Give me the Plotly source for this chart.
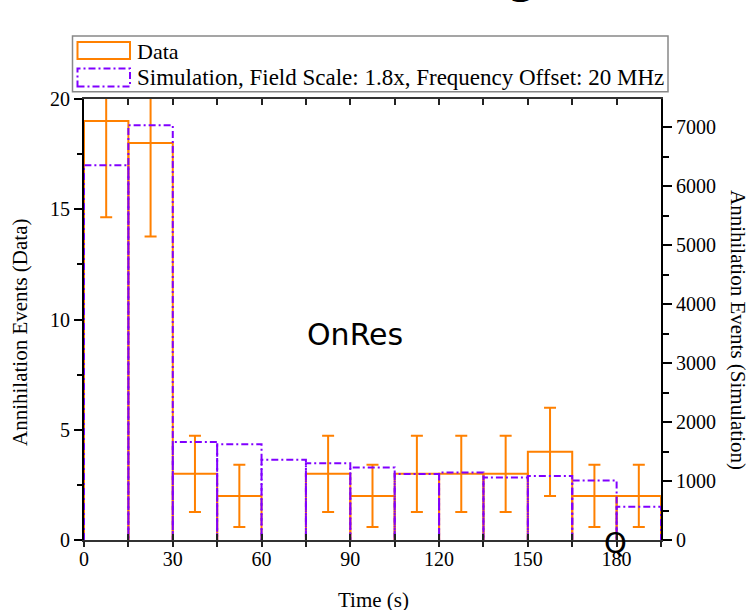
import plotly.graph_objects as go

# ---- data ----
bin_left = [0, 15, 30, 45, 60, 75, 90, 105, 120, 135, 150, 165, 180]
bin_width = 15
data_counts = [19, 18, 3, 2, 0, 3, 2, 3, 3, 3, 4, 2, 2]
data_errors = [4.36, 4.24, 1.73, 1.41, 0, 1.73, 1.41, 1.73, 1.73, 1.73, 2.0, 1.41, 1.41]
sim_counts = [6350, 7030, 1660, 1625, 1360, 1300, 1230, 1120, 1145, 1060, 1085, 1010, 565]
x_ticks = [0, 30, 60, 90, 120, 150, 180]

ORANGE = "#ff8000"
PURPLE = "#8000ff"
SERIF = "Liberation Serif"

# plot-area pixel geometry (for placing legend / annotations)
L, R, T, B = 84, 661, 99, 540
PW, PH = R - L, B - T


def px(x):
    return (x - L) / PW


def py(y):
    return (B - y) / PH


def outline(lefts, width, heights):
    xs, ys = [], []
    for x0, h in zip(lefts, heights):
        if h <= 0:
            continue
        xs += [x0, x0, x0 + width, x0 + width, None]
        ys += [0, h, h, 0, None]
    return xs, ys


fig = go.Figure()

ox, oy = outline(bin_left, bin_width, data_counts)
fig.add_trace(go.Scatter(x=ox, y=oy, mode="lines", line=dict(color=ORANGE, width=2),
                         hoverinfo="skip", name="Data"))

sx, sy = outline(bin_left, bin_width, sim_counts)
fig.add_trace(go.Scatter(x=sx, y=sy, mode="lines", yaxis="y2",
                         line=dict(color=PURPLE, width=2, dash="7px,3px,2px,3px"),
                         hoverinfo="skip",
                         name="Simulation, Field Scale: 1.8x, Frequency Offset: 20 MHz"))

centers = [b + bin_width / 2 for b, c in zip(bin_left, data_counts) if c > 0]
vals = [c for c in data_counts if c > 0]
errs = [e for c, e in zip(data_counts, data_errors) if c > 0]
fig.add_trace(go.Scatter(x=centers, y=vals, mode="markers",
                         marker=dict(size=1, color="rgba(0,0,0,0)"),
                         error_y=dict(type="data", array=errs, color=ORANGE, thickness=2, width=6),
                         showlegend=False))

tickfont = dict(family=SERIF, size=20, color="black")

fig.update_layout(
    width=750, height=610,
    margin=dict(l=L, r=750 - R, t=T, b=610 - B),
    paper_bgcolor="white", plot_bgcolor="white",
    showlegend=False,
    xaxis=dict(range=[0, 195], tickvals=x_ticks, ticks="inside", ticklen=6, tickwidth=1.5,
               tickcolor="#222", mirror="ticks", showline=True, linecolor="#333", linewidth=2,
               showgrid=False, zeroline=False, tickfont=tickfont,
               minor=dict(dtick=15, tick0=0, ticks="inside", ticklen=6, tickwidth=1.5, tickcolor="#222")),
    xaxis3=dict(range=[0, 195], overlaying="x", tickvals=x_ticks, ticks="outside", ticklen=6,
                tickwidth=1.5, tickcolor="#222", showticklabels=False, showline=False,
                showgrid=False, zeroline=False,
                minor=dict(dtick=15, tick0=0, ticks="outside", ticklen=6, tickwidth=1.5, tickcolor="#222")),
    yaxis=dict(range=[0, 20], dtick=5, ticks="outside", ticklen=8, tickwidth=1.5, tickcolor="black",
               showline=True, linecolor="black", linewidth=2, showgrid=False, zeroline=False,
               tickfont=tickfont,
               minor=dict(dtick=2.5, ticks="outside", ticklen=5, tickwidth=1.5, tickcolor="black")),
    yaxis2=dict(range=[0, 7475], dtick=1000, overlaying="y", side="right", ticks="outside",
                ticklen=9, tickwidth=1.5, tickcolor="black", showline=True, linecolor="black",
                linewidth=2, showgrid=False, zeroline=False, tickfont=tickfont,
                minor=dict(dtick=500, ticks="outside", ticklen=6, tickwidth=1.5, tickcolor="black")),
)
# dummy trace so xaxis3 is drawn
fig.add_trace(go.Scatter(x=[None], y=[None], xaxis="x3", showlegend=False, hoverinfo="skip"))

# manual legend
shapes = [
    dict(type="rect", xref="paper", yref="paper", x0=px(72.5), x1=px(668), y0=py(91.7), y1=py(36),
         line=dict(color="#888", width=1.5), fillcolor="white", layer="above"),
    dict(type="rect", xref="paper", yref="paper", x0=px(77.5), x1=px(130), y0=py(59), y1=py(42),
         line=dict(color=ORANGE, width=2), layer="above"),
    dict(type="rect", xref="paper", yref="paper", x0=px(77.5), x1=px(130), y0=py(86.5), y1=py(68.5),
         line=dict(color=PURPLE, width=2, dash="7px,3px,2px,3px"), layer="above"),
]
fig.update_layout(shapes=shapes)

ann = [
    dict(text="Data", x=px(135), y=py(51), xref="paper", yref="paper", xanchor="left",
         yanchor="middle", showarrow=False, font=dict(family=SERIF, size=22, color="black")),
    dict(text="Simulation, Field Scale: 1.8x, Frequency Offset: 20 MHz", x=px(135), y=py(77.5),
         xref="paper", yref="paper", xanchor="left", yanchor="middle", showarrow=False,
         font=dict(family=SERIF, size=23, color="black")),
    dict(text="Time (s)", x=px(373), y=py(600), xref="paper", yref="paper", xanchor="center",
         yanchor="middle", showarrow=False, font=dict(family=SERIF, size=21, color="black")),
    dict(text="Annihilation Events (Data)", x=px(20), y=py(333), xref="paper", yref="paper",
         xanchor="center", yanchor="middle", textangle=-90, showarrow=False,
         font=dict(family=SERIF, size=21, color="black")),
    dict(text="Annihilation Events (Simulation)", x=px(738), y=py(330), xref="paper", yref="paper",
         xanchor="center", yanchor="middle", textangle=90, showarrow=False,
         font=dict(family=SERIF, size=21, color="black")),
    dict(text="OnRes", x=px(355), y=py(334.5), xref="paper", yref="paper", xanchor="center",
         yanchor="middle", showarrow=False, font=dict(family="DejaVu Sans", size=30, color="black")),
    dict(text="Q", x=px(615), y=py(543), xref="paper", yref="paper", xanchor="center",
         yanchor="middle", showarrow=False, font=dict(family="DejaVu Sans", size=29, color="black")),
    dict(text="<b>g</b>", x=px(522), y=py(4), xref="paper", yref="paper", xanchor="center",
         yanchor="bottom", showarrow=False, font=dict(family="DejaVu Sans", size=40, color="black")),
]
fig.update_layout(annotations=ann)

fig.write_html("out.html")
